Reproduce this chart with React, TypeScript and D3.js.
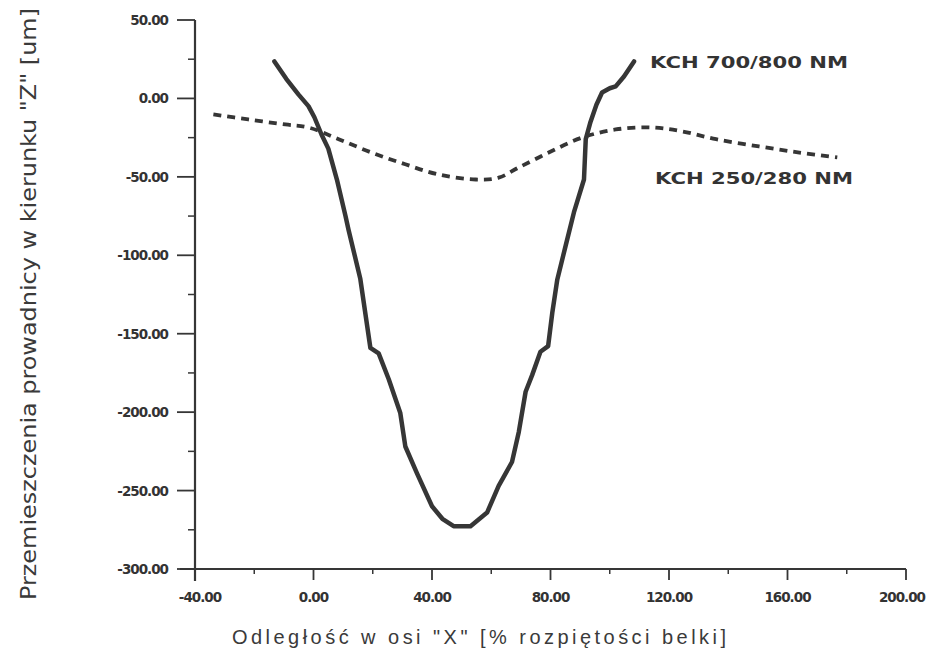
import React, { useRef, useEffect } from "react";
import * as d3 from "d3";

// KCH 700/800 NM - solid curve
const heavyX = [-13.2, -9.2, -5.1, -1.7, 0.3, 2.7, 5.0, 7.9, 10.8, 11.8, 15.8, 19.2, 22.0, 25.4, 29.3, 31.0, 34.9, 40.0, 43.5, 47.3, 53.0, 58.6, 62.5, 67.0, 69.3, 71.6, 73.8, 76.6, 79.2, 80.6, 82.3, 85.1, 87.9, 91.3, 91.9, 93.5, 95.5, 97.4, 100.0, 102.0, 104.8, 108.2];
const heavyY = [23.6, 12.5, 2.6, -4.9, -12, -23, -32, -51.7, -75, -83.5, -115, -159, -162.5, -179, -200.6, -221.9, -238.9, -260, -268, -272.7, -272.7, -264, -247, -231.8, -212.6, -187, -176.4, -161.5, -157.9, -136.7, -115.4, -94, -72.7, -51.7, -26, -15, -4, 3.8, 6.5, 7.7, 14, 23.6];

// KCH 250/280 NM - dashed curve
const lightX = [-33.8, -22, -9.5, -1.7, 8.5, 19.6, 31, 42.3, 54.8, 62.5, 69.3, 79.4, 90.6, 102, 114, 124.4, 135.9, 150.4, 164, 176.8];
const lightY = [-10.2, -13.4, -16.6, -18.5, -26, -34.5, -42, -48.5, -51.7, -50.5, -44, -34.5, -25, -19.8, -18.5, -21, -26, -30.6, -34.5, -37.6];

const xTicks = [-40, 0, 40, 80, 120, 160, 200];
const yTicks = [50, 0, -50, -100, -150, -200, -250, -300];
const seriesNames = ["KCH 700/800 NM", "KCH 250/280 NM"];

const ink = "#363636";

export default function App() {
  const ref = useRef(null);

  useEffect(() => {
    const svg = d3.select(ref.current);
    svg.selectAll("*").remove();

    const width = 928;
    const height = 657;
    svg.attr("width", width).attr("height", height);

    const x = d3.scaleLinear().domain([-40, 200]).range([195, 906]);
    const y = d3.scaleLinear().domain([-300, 50]).range([569, 20]);

    svg.append("rect").attr("width", width).attr("height", height).attr("fill", "#fff");

    const tickFont = "'DejaVu Sans', Verdana, sans-serif";

    // axes lines
    svg.append("line")
      .attr("x1", x(-40)).attr("x2", x(-40))
      .attr("y1", y(50)).attr("y2", y(-300) + 12)
      .attr("stroke", ink).attr("stroke-width", 2.2);
    svg.append("line")
      .attr("x1", x(-40) - 15).attr("x2", x(200))
      .attr("y1", y(-300)).attr("y2", y(-300))
      .attr("stroke", ink).attr("stroke-width", 2.2);

    // y ticks
    const yMinor = d3.range(25, -300, -50);
    svg.selectAll(".ytick")
      .data(yTicks)
      .enter()
      .append("line")
      .attr("x1", x(-40) - 18).attr("x2", x(-40))
      .attr("y1", (d) => y(d)).attr("y2", (d) => y(d))
      .attr("stroke", ink).attr("stroke-width", 1.8);
    svg.selectAll(".yminor")
      .data(yMinor)
      .enter()
      .append("line")
      .attr("x1", x(-40) - 7).attr("x2", x(-40))
      .attr("y1", (d) => y(d)).attr("y2", (d) => y(d))
      .attr("stroke", ink).attr("stroke-width", 1.5);
    svg.selectAll(".ylabel")
      .data(yTicks)
      .enter()
      .append("text")
      .attr("x", x(-40) - 27)
      .attr("y", (d) => y(d) + 5)
      .attr("text-anchor", "end")
      .attr("font-family", tickFont)
      .attr("font-size", "13.5px")
      .attr("font-weight", "bold")
      .attr("letter-spacing", "-1")
      .attr("fill", "#333")
      .text((d) => d.toFixed(2));

    // x ticks
    const xMinor = d3.range(-20, 200, 40);
    svg.selectAll(".xtick")
      .data(xTicks.slice(1))
      .enter()
      .append("line")
      .attr("x1", (d) => x(d)).attr("x2", (d) => x(d))
      .attr("y1", y(-300)).attr("y2", y(-300) + 11)
      .attr("stroke", ink).attr("stroke-width", 1.8);
    svg.selectAll(".xminor")
      .data(xMinor)
      .enter()
      .append("line")
      .attr("x1", (d) => x(d)).attr("x2", (d) => x(d))
      .attr("y1", y(-300)).attr("y2", y(-300) + 5)
      .attr("stroke", ink).attr("stroke-width", 1.5);
    svg.selectAll(".xlabel")
      .data(xTicks)
      .enter()
      .append("text")
      .attr("x", (d) => (d === 200 ? 925 : x(d) + (d < 0 ? 5 : 0)))
      .attr("y", y(-300) + 33)
      .attr("text-anchor", (d) => (d === 200 ? "end" : "middle"))
      .attr("font-family", tickFont)
      .attr("font-size", "13.5px")
      .attr("font-weight", "bold")
      .attr("letter-spacing", "-1")
      .attr("fill", "#333")
      .text((d) => d.toFixed(2));

    // curves
    const heavy = d3.zip(heavyX, heavyY);
    const light = d3.zip(lightX, lightY);

    const line = d3.line()
      .x((d) => x(d[0]))
      .y((d) => y(d[1]));

    svg.append("path")
      .attr("d", line.curve(d3.curveLinear)(heavy))
      .attr("fill", "none")
      .attr("stroke", ink)
      .attr("stroke-width", 4.5)
      .attr("stroke-linejoin", "round")
      .attr("stroke-linecap", "round");

    svg.append("path")
      .attr("d", line.curve(d3.curveCatmullRom)(light))
      .attr("fill", "none")
      .attr("stroke", ink)
      .attr("stroke-width", 3.8)
      .attr("stroke-dasharray", "8 6");

    // series labels
    const labelFont = "'DejaVu Sans', Verdana, sans-serif";
    svg.append("text")
      .attr("x", 650).attr("y", 68)
      .attr("font-family", labelFont)
      .attr("font-size", "16px")
      .attr("font-weight", "bold")
      .attr("fill", "#333")
      .attr("textLength", 198)
      .attr("lengthAdjust", "spacingAndGlyphs")
      .text(seriesNames[0]);
    svg.append("text")
      .attr("x", 655).attr("y", 184)
      .attr("font-family", labelFont)
      .attr("font-size", "16px")
      .attr("font-weight", "bold")
      .attr("fill", "#333")
      .attr("textLength", 198)
      .attr("lengthAdjust", "spacingAndGlyphs")
      .text(seriesNames[1]);

    // axis titles
    svg.append("text")
      .attr("x", 232).attr("y", 644)
      .attr("font-family", "'Liberation Sans', Arial, sans-serif")
      .attr("font-size", "20px")
      .attr("fill", "#3a3a3a")
      .attr("textLength", 494)
      .attr("lengthAdjust", "spacing")
      .text("Odległość w osi \"X\" [% rozpiętości belki]");

    svg.append("text")
      .attr("transform", `translate(36, 600) rotate(-90)`)
      .attr("font-family", "'Liberation Sans Narrow', 'DejaVu Sans Condensed', Arial, sans-serif")
      .attr("font-size", "22px")
      .attr("fill", "#3a3a3a")
      .attr("textLength", 592)
      .attr("lengthAdjust", "spacingAndGlyphs")
      .text("Przemieszczenia prowadnicy w kierunku \"Z\" [um]");
  }, []);

  return (
    <svg ref={ref} style={{ position: "absolute", left: 0, top: 0, display: "block" }}></svg>
  );
}
